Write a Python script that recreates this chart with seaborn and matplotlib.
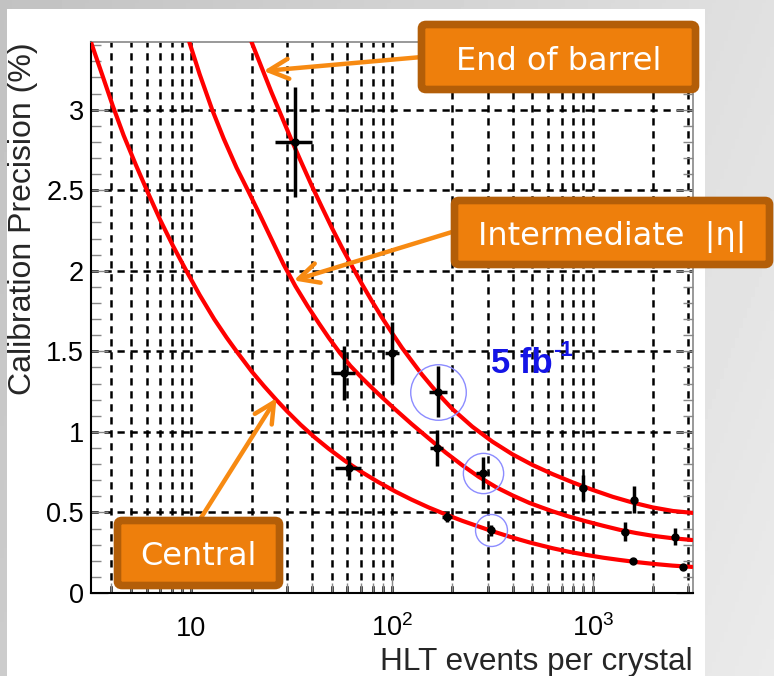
import numpy as np
import pandas as pd
import matplotlib
matplotlib.use("Agg")
import matplotlib.pyplot as plt
import seaborn as sns
from matplotlib.patches import FancyBboxPatch, Rectangle
from matplotlib.ticker import FixedLocator, NullFormatter, MultipleLocator

# ---------------- data ----------------
# calibration precision curves vs. number of HLT events per crystal
central_n = [3.16, 3.6, 4.07, 4.6, 5.3, 6.1, 7.0, 8.1, 9.44, 11, 13, 15, 16.8, 20, 23, 26.6,
             30, 35, 41, 48.4, 58, 70.8, 85, 104.7, 125, 153, 185, 224, 260, 305, 380, 431,
             484, 560, 631, 760, 933, 1130, 1365, 1650, 1995, 2500, 3126]
central_p = [3.42, 3.215, 3.02, 2.84, 2.655, 2.48, 2.315, 2.155, 2.0, 1.85, 1.70, 1.585, 1.50,
             1.375, 1.285, 1.197, 1.128, 1.045, 0.968, 0.895, 0.822, 0.75, 0.69, 0.628, 0.58,
             0.53, 0.488, 0.448, 0.42, 0.39, 0.352, 0.332, 0.314, 0.294, 0.278, 0.256, 0.236,
             0.219, 0.205, 0.192, 0.181, 0.17, 0.162]

inter_n = [9.77, 11, 12.7, 14.5, 16.8, 19.3, 22, 25, 28.8, 33, 38, 43, 48.4, 55, 62, 70.8, 80,
           90, 104.7, 125, 153, 185, 224, 270, 331, 400, 484, 560, 631, 760, 933, 1130, 1365,
           1650, 1995, 2500, 3126]
inter_p = [3.42, 3.22, 3.0, 2.82, 2.64, 2.49, 2.345, 2.2, 2.04, 1.905, 1.78, 1.678, 1.584,
           1.49, 1.41, 1.335, 1.27, 1.21, 1.135, 1.05, 0.958, 0.872, 0.793, 0.722, 0.656,
           0.605, 0.559, 0.53, 0.507, 0.475, 0.444, 0.417, 0.392, 0.372, 0.355, 0.34, 0.329]

end_n = [19.95, 22.4, 25.1, 28.2, 31.6, 35.5, 39.8, 44.7, 50.1, 56.2, 63.1, 70.8, 79.4, 89.1,
         100, 112, 126, 141, 158.5, 178, 199.5, 251, 316, 398, 501, 631, 794, 1000, 1259,
         1585, 1995, 2512, 3162]
end_p = [3.42, 3.262, 3.107, 2.957, 2.81, 2.667, 2.529, 2.396, 2.268, 2.146, 2.03, 1.918,
         1.812, 1.71, 1.614, 1.523, 1.437, 1.356, 1.28, 1.209, 1.143, 1.033, 0.94, 0.861,
         0.795, 0.738, 0.687, 0.64, 0.597, 0.561, 0.531, 0.509, 0.497]

# measured points with uncertainties
pts_n = [33, 57.5, 100, 170, 61, 167, 188, 283, 311, 893, 1610, 1445, 1585, 2570, 2830]
pts_p = [2.80, 1.365, 1.49, 1.25, 0.775, 0.90, 0.47, 0.745, 0.39, 0.65, 0.58, 0.38, 0.20, 0.35, 0.163]
pts_xerr = [7, 8, 8, 17, 9, 13, 10, 21, 12, 35, 60, 55, 0, 90, 0]
pts_yerr = [0.34, 0.17, 0.19, 0.16, 0.075, 0.11, 0.03, 0.10, 0.035, 0.08, 0.083, 0.058, 0.0, 0.055, 0.0]

# highlighted points (index into pts_*) and circle diameters in points
circ_idx = [3, 7, 8]
circ_ms = [40, 29, 23]

x_ticks = [10, 100, 1000]
x_ticklabels = ["10", r"$10^{2}$", r"$10^{3}$"]
y_ticks = [0, 0.5, 1, 1.5, 2, 2.5, 3]
y_ticklabels = ["0", "0.5", "1", "1.5", "2", "2.5", "3"]

curves = pd.DataFrame({
    "events": central_n + inter_n + end_n,
    "precision": central_p + inter_p + end_p,
    "region": (["Central"] * len(central_n) + ["Intermediate"] * len(inter_n)
               + ["End of barrel"] * len(end_n)),
})

# ---------------- style ----------------
sns.set_theme(style="white")
plt.rcParams["font.family"] = ["Liberation Sans", "DejaVu Sans"]
plt.rcParams["mathtext.fontset"] = "custom"
plt.rcParams["mathtext.rm"] = "Liberation Sans"
plt.rcParams["mathtext.it"] = "Liberation Sans:italic"
plt.rcParams["mathtext.bf"] = "Liberation Sans:bold"

W, H = 774, 676
fig = plt.figure(figsize=(W / 100, H / 100), dpi=100)

# slide-like gray backdrop with a white panel
bg = fig.add_axes([0, 0, 1, 1], zorder=-10)
bg.axis("off")
xx, yy = np.meshgrid(np.linspace(0, 1, 200), np.linspace(0, 1, 200))
shade = 0.76 + 0.12 * xx + 0.04 * yy
bg.imshow(shade, cmap="gray", vmin=0, vmax=1, extent=[0, 1, 0, 1], aspect="auto", origin="upper")
bg.add_patch(Rectangle((7 / W, 0), (705 - 7) / W, (H - 9) / H, transform=bg.transAxes,
                       facecolor="white", edgecolor="none"))
bg.set_xlim(0, 1)
bg.set_ylim(0, 1)

ax = fig.add_axes([91 / W, (H - 593) / H, (693 - 91) / W, (593 - 42) / H])
ax.set_facecolor("white")

sns.lineplot(data=curves, x="events", y="precision", hue="region",
             palette=["#ff0000"] * 3, legend=False, estimator=None, sort=True,
             linewidth=3.0, ax=ax, zorder=3)

ax.errorbar(pts_n, pts_p, xerr=pts_xerr, yerr=pts_yerr, fmt="o", color="black",
            ms=5, elinewidth=2.5, capsize=0, zorder=4)

for i, ms in zip(circ_idx, circ_ms):
    ax.plot([pts_n[i]], [pts_p[i]], marker="o", ms=ms, mfc="none",
            mec="#8c8cff", mew=1.0, zorder=5)

lumi = ax.text(310, 1.365, "5 fb", color="#1414e6", fontsize=25, fontweight="bold",
               ha="left", va="baseline", zorder=6)
ax.annotate("-1", xy=(1.0, 1.0), xycoords=lumi, xytext=(0.5, 5), textcoords="offset points",
            color="#1414e6", fontsize=16, fontweight="bold", ha="left", va="top", zorder=6)

# axes
ax.set_xscale("log")
ax.set_xlim(10 ** 0.5, 10 ** 3.5)
ax.set_ylim(0, 3.42)
ax.xaxis.set_major_locator(FixedLocator(x_ticks))
ax.set_xticklabels(x_ticklabels)
ax.xaxis.set_minor_locator(FixedLocator([4, 5, 6, 7, 8, 9, 20, 30, 40, 50, 60, 70, 80, 90,
                                         200, 300, 400, 500, 600, 700, 800, 900, 2000, 3000]))
ax.xaxis.set_minor_formatter(NullFormatter())
ax.set_yticks(y_ticks)
ax.set_yticklabels(y_ticklabels)
ax.yaxis.set_minor_locator(MultipleLocator(0.1))

grid_kw = dict(color="black", linewidth=1.8, linestyle=(0, (2.9, 2.3)))
ax.grid(which="major", axis="both", **grid_kw)
ax.grid(which="minor", axis="x", **grid_kw)
ax.set_axisbelow(True)

ax.tick_params(axis="both", which="both", direction="in", color="#888888", width=1.0,
               labelsize=19.5, labelcolor="black")
ax.tick_params(axis="y", which="both", left=True, right=True)
ax.tick_params(axis="y", which="major", length=12, pad=5)
ax.tick_params(axis="y", which="minor", length=7)
ax.tick_params(axis="x", which="both", bottom=True, top=False)
ax.tick_params(axis="x", which="major", length=12, pad=31)
ax.tick_params(axis="x", which="minor", length=7)
for lab in ax.get_xticklabels():
    lab.set_va("baseline")

for side in ["left", "bottom"]:
    ax.spines[side].set_color("black")
    ax.spines[side].set_linewidth(1.5)
for side in ["top", "right"]:
    ax.spines[side].set_color("#888888")
    ax.spines[side].set_linewidth(1.2)

ax.set_xlabel("HLT events per crystal", fontsize=22.7, loc="right")
ax.xaxis.set_label_coords(1.0, -(670 - 593) / (593 - 42))
ax.xaxis.label.set_va("baseline")
ax.set_ylabel("Calibration Precision (%)", fontsize=23, loc="top")
ax.yaxis.set_label_coords((38 - 91) / (693 - 91), 1.0)

# ---------------- annotations ----------------
arrow_col = "#f78a12"
box_fill = "#ee7f0c"
box_edge = "#b35e08"

arrows = [
    ((22.9, 3.24), (422, 57)),
    ((32.4, 1.94), (452, 232)),
    ((26.6, 1.21), (199, 521)),
]
for tip, start in arrows:
    ax.annotate("", xy=tip, xycoords="data", xytext=(start[0], H - start[1]),
                textcoords="figure pixels",
                arrowprops=dict(arrowstyle="->,head_length=0.9,head_width=0.45",
                                color=arrow_col, lw=3.2, mutation_scale=16,
                                shrinkA=0, shrinkB=0), zorder=7)

boxes = [
    ((421.5, 24.5, 695.5, 89.5), "End of barrel", (559, 70)),
    ((454.5, 200.5, 769.5, 264.5), "Intermediate  |\u03b7|", (612, 245)),
    ((117.5, 520.5, 279.5, 585.5), "Central", (198.5, 565)),
]
for (x0, y0, x1, y1), label, (tx, ty) in boxes:
    patch = FancyBboxPatch((x0 / W, 1 - y1 / H), (x1 - x0) / W, (y1 - y0) / H,
                           boxstyle="round,pad=0,rounding_size=0.006",
                           transform=fig.transFigure, facecolor=box_fill,
                           edgecolor=box_edge, linewidth=5.5, zorder=8)
    fig.add_artist(patch)
    fig.text(tx / W, 1 - ty / H, label, ha="center", va="baseline", color="white",
             fontsize=23, family="DejaVu Sans", zorder=9)

fig.savefig("out.png", dpi=100)
